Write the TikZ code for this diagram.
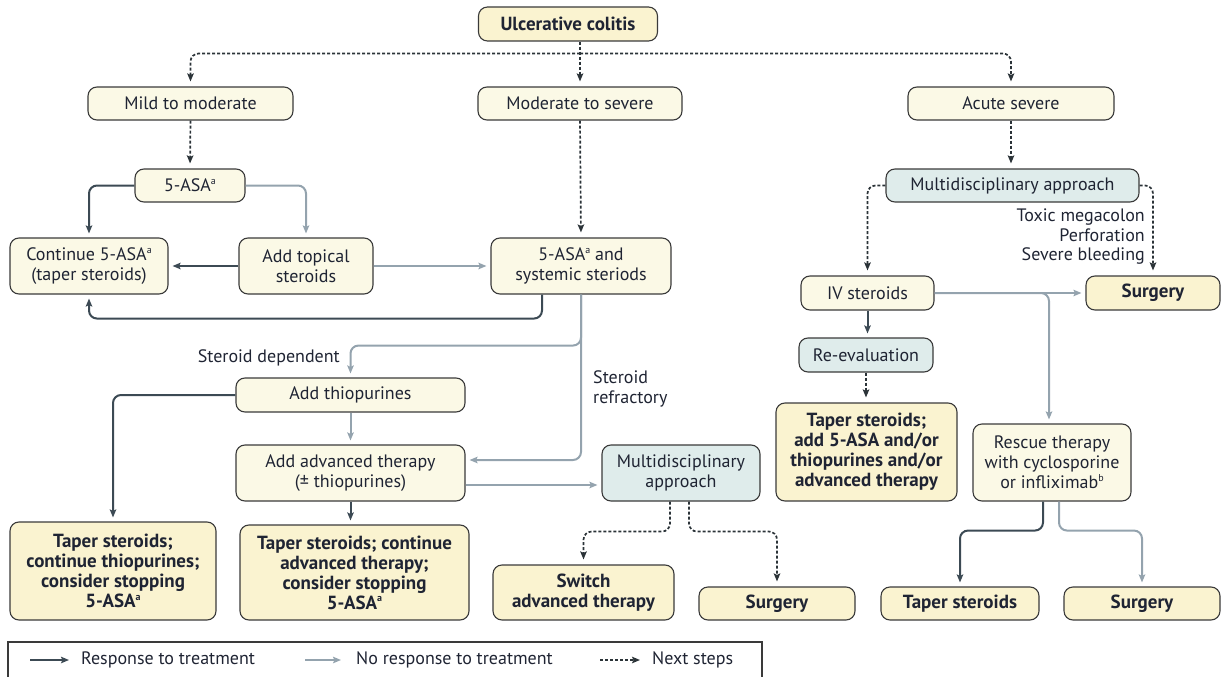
\documentclass[tikz,border=0pt]{standalone}
\usepackage{fontspec}
\setmainfont{PT Sans}
\usetikzlibrary{arrows.meta,calc}
\definecolor{boxfill}{HTML}{FBF9E6}
\definecolor{boldfill}{HTML}{FAF3D0}
\definecolor{tealfill}{HTML}{DFECEB}
\definecolor{boxline}{HTML}{3A3A3A}
\definecolor{darkc}{HTML}{3C4A54}
\definecolor{grayc}{HTML}{94A3AE}
\definecolor{dashc}{HTML}{2B3338}
\definecolor{txt}{HTML}{1F2433}
\newcommand\supmark[1]{\raisebox{0.38em}{\fontsize{10}{10}\selectfont #1}}
\tikzset{
  box/.style={draw=boxline, line width=1.1pt, fill=boxfill, rounded corners=9pt, align=center,
    inner sep=0pt, text=txt, font={\fontsize{18}{20}\selectfont}},
  boldbox/.style={box, fill=boldfill, font={\fontsize{19}{20}\selectfont\bfseries}},
  tealbox/.style={box, fill=tealfill},
  lbl/.style={text=txt, inner sep=0pt, font={\fontsize{18}{19.5}\selectfont}},
  tip/.style={-{Stealth[length=8pt,width=6.5pt,inset=1.5pt]}},
  resp/.style={tip, draw=darkc, line width=2pt, rounded corners=8pt, shorten >=4pt},
  nores/.style={tip, draw=grayc, line width=2pt, rounded corners=8pt, shorten >=4pt},
  nextstep/.style={tip, draw=dashc, line width=1.7pt, dash pattern=on 3pt off 2pt, rounded corners=8pt, shorten >=5pt},
}
\begin{document}
\begin{tikzpicture}[x=1pt,y=-1pt]
\useasboundingbox (0,0) rectangle (1221,677);
% nodes
\node[boldbox, minimum width=179pt, minimum height=34pt] (uc) at (568,24) {Ulcerative colitis};
\node[box, minimum width=205pt, minimum height=33pt] (mild) at (190.5,103.5) {Mild to moderate};
\node[box, minimum width=204pt, minimum height=33pt] (modsev) at (580,103.5) {Moderate to severe};
\node[box, minimum width=206pt, minimum height=33pt] (acute) at (1011,103.5) {Acute severe};
\node[box, minimum width=110pt, minimum height=33pt] (asa) at (190,185.5) {5-ASA\supmark{a}};
\node[box, minimum width=158pt, minimum height=56pt] (cont) at (89,266) {Continue 5-ASA\supmark{a}\\(taper steroids)};
\node[box, minimum width=134pt, minimum height=56pt] (topical) at (306,266) {Add topical\\steroids};
\node[box, minimum width=180pt, minimum height=56pt] (sys) at (581,266) {5-ASA\supmark{a} and\\systemic steriods};
\node[tealbox, minimum width=253pt, minimum height=33pt] (multiR) at (1012.5,185.5) {Multidisciplinary approach};
\node[box, minimum width=133pt, minimum height=34pt] (iv) at (867.5,293) {IV steroids};
\node[boldbox, minimum width=134pt, minimum height=34pt] (surgR) at (1153,293) {Surgery};
\node[tealbox, minimum width=134pt, minimum height=34pt] (reeval) at (866,355) {Re-evaluation};
\node[boldbox, minimum width=181pt, minimum height=98pt] (taperR) at (866.5,452) {Taper steroids;\\add 5-ASA and/or\\thiopurines and/or\\advanced therapy};
\node[box, minimum width=158pt, minimum height=77pt] (rescue) at (1052,462.5) {Rescue therapy\\with cyclosporine\\or infliximab\supmark{b}};
\node[box, minimum width=229pt, minimum height=34pt] (thio) at (350.5,395) {Add thiopurines};
\node[box, minimum width=229pt, minimum height=56pt] (adv) at (350.5,473) {Add advanced therapy\\(\textpm{} thiopurines)};
\node[tealbox, minimum width=158pt, minimum height=56pt] (multiM) at (681,473) {Multidisciplinary\\approach};
\node[boldbox, minimum width=206pt, minimum height=98pt] (taper1) at (113,571) {Taper steroids;\\continue thiopurines;\\consider stopping\\5-ASA\supmark{a}};
\node[boldbox, minimum width=229pt, minimum height=95pt] (taper2) at (354.5,572.5) {Taper steroids; continue\\advanced therapy;\\consider stopping\\5-ASA\supmark{a}};
\node[boldbox, minimum width=181pt, minimum height=55pt] (switch) at (583.5,592.5) {Switch\\advanced therapy};
\node[boldbox, minimum width=156pt, minimum height=33pt] (surgM) at (777,603.5) {Surgery};
\node[boldbox, minimum width=158pt, minimum height=33pt] (taperB) at (960,603.5) {Taper steroids};
\node[boldbox, minimum width=156pt, minimum height=33pt] (surgB) at (1142,603.5) {Surgery};
% labels
\node[lbl, anchor=north east, align=right] (toxic) at (1145,209) {Toxic megacolon\\Perforation\\Severe bleeding};
\node[lbl, anchor=east] (sdep) at (340,358) {Steroid dependent};
\node[lbl, anchor=west, align=left] (sref) at (593,389) {Steroid\\refractory};
% connectors
\coordinate (hub) at ($(uc.south -| modsev.north)+(0,12)$);
\draw[nextstep] (uc.south -| modsev.north) -- (modsev.north);
\draw[nextstep] (hub) -| (mild.north);
\draw[nextstep] (hub) -| (acute.north);
\draw[nextstep] (mild.south) -- (asa.north);
\draw[resp] (asa.west) -| (cont.north);
\draw[nores] (asa.east) -| (topical.north);
\draw[resp] (topical.west) -- (cont.east);
\draw[nores] (topical.east) -- (sys.west);
\draw[nextstep] (modsev.south) -- (sys.north);
\draw[resp] ([xshift=-39pt]sys.south) -- ++(0,24) -| (cont.south);
\draw[nores] (sys.south) |- ([yshift=13pt]adv.east);
\draw[nores] (sys.south) -- ++(0,51) -| (thio.north);
\draw[nores] (thio.south) -- (adv.north);
\draw[resp] (thio.west) -| (taper1.north);
\draw[resp] (adv.south) -- (adv.south |- taper2.north);
\draw[nores] ([yshift=-12pt]adv.east) -- ([yshift=-12pt]adv.east -| multiM.west);
\draw[nextstep] ([xshift=-11pt]multiM.south) -- ++(0,30) -| (switch.north);
\draw[nextstep] ([xshift=8pt]multiM.south) -- ++(0,30) -| (surgM.north);
\draw[nextstep] (acute.south) -- (acute.south |- multiR.north);
\draw[nextstep] (multiR.west) -| (iv.north);
\draw[nextstep] (multiR.east) -| (surgR.north);
\draw[nores] (iv.east) -- (surgR.west);
\draw[nores] (iv.east) -| ([xshift=-3pt]rescue.north);
\draw[resp] (iv.south) -- (iv.south |- reeval.north);
\draw[nextstep] (reeval.south) -- (reeval.south |- taperR.north);
\draw[resp] ([xshift=-9pt]rescue.south) -- ++(0,29) -| (taperB.north);
\draw[nores] ([xshift=7pt]rescue.south) -- ++(0,29) -| (surgB.north);
% legend
\draw[line width=1.1pt, draw=boxline] (8,680) -- (8,642) -- (762,642) -- (762,680);
\coordinate (l1a) at (30,660); \coordinate (l1b) at (73,660);
\coordinate (l2a) at (305,660); \coordinate (l2b) at (345,660);
\coordinate (l3a) at (600,660); \coordinate (l3b) at (645,660);
\draw[resp] (l1a) -- (l1b);
\draw[nores] (l2a) -- (l2b);
\draw[nextstep] (l3a) -- (l3b);
\node[lbl, anchor=west] (lt1) at (81,660) {Response to treatment};
\node[lbl, anchor=west] (lt2) at (356,660) {No response to treatment};
\node[lbl, anchor=west] (lt3) at (652,660) {Next steps};
\end{tikzpicture}
\end{document}
